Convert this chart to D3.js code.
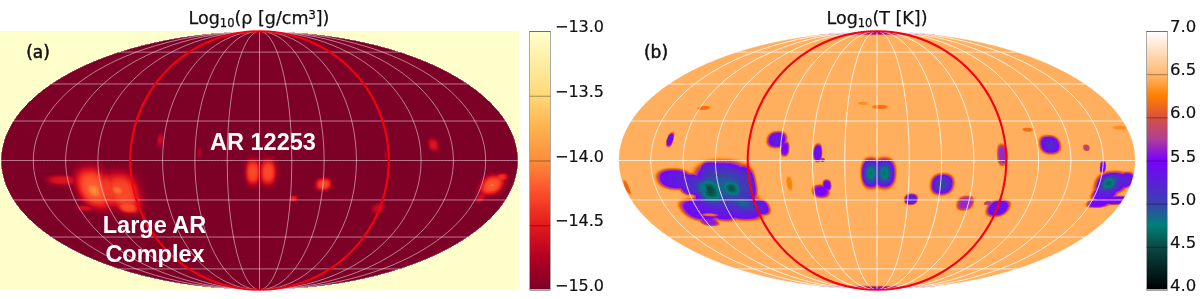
<!DOCTYPE html>
<html><head><meta charset="utf-8">
<style>
html,body{margin:0;padding:0;background:#fff;width:1200px;height:299px;overflow:hidden}
#wrap{position:relative;width:1200px;height:299px}
canvas,svg{position:absolute;left:0;top:0}
canvas{filter:blur(0.5px)}
</style>
<script src="https://cdnjs.cloudflare.com/ajax/libs/d3/7.8.5/d3.min.js"></script>
</head><body><div id="wrap"><canvas id="c" width="1200" height="299"></canvas><svg id="s" width="1200" height="299"></svg></div>
<script>
// Colour scale stops
const densityStops = [[-15,"#7d0026"],[-14.75,"#b30024"],[-14.5,"#e31a1c"],[-14.25,"#fc4e2a"],[-14,"#fd8d3c"],[-13.75,"#feb24c"],[-13.5,"#fed976"],[-13,"#ffffcc"]];
const tempStops = [[4,"#000000"],[4.5,"#0b4a46"],[4.75,"#00807a"],[5,"#3a40b0"],[5.25,"#5a20d8"],[5.5,"#7a00ff"],[5.75,"#ae3f98"],[6,"#d8503f"],[6.25,"#ff7f00"],[6.5,"#ffb870"],[7,"#ffffff"]];
const densityTicks = [-13,-13.5,-14,-14.5,-15];
const tempTicks = [7,6.5,6,5.5,5,4.5,4];
const densityBase = -15;
const tempBase = 6.46;
// Each row: lon, lat, lon radius, lat radius, amplitude (degrees; log10 units)
const tempShelves = [
[-142.4,-10.6,12,5.8,1.1],[-131,-14,10,6.6,1.1],[-116,-6.5,8,6,1.1],[-108,-11.8,20,11.6,1.12],[-93.7,-12.9,8,10.4,1.1],[-111.4,-22.7,24,7.8,1.12],
[-133.6,-28.5,13.5,6.6,1.05],[-118,-28.5,12,6.4,1.08],[-102,-28.5,15,6,1.1],[-87.8,-26.7,7.5,4.8,1.05],[-132.7,-35.4,7,2.6,.85],
[-146,11.8,2.3,4,1.05],[-70.6,11.8,6.8,4.6,1.08],[-64.4,6.6,3,4.2,.95],[-132,30.2,4.6,1.2,.3],[-178,-15.2,1.5,4,.35],
[-41.3,4.3,3,5,1.1],[-37.8,.3,1.4,1.2,.8],[-40.2,-17.5,6,3.7,.95],[-35.5,-14,3,3.2,1],
[-4.2,-7.2,6.8,8.6,1.1],[5.2,-7.2,7.8,8.6,1.1],[46.2,-13.5,8,6,1.1],[24.8,-22.1,4.8,3.2,1.08],[65.1,-24.4,6,4.2,.8],
[90.7,-27.3,8.2,5,1.1],[82,-24.4,3,1.2,.7],[87.5,3.2,3.6,6,.8],[121.4,8.9,7.2,5.2,1.1],[146.5,7.2,2.2,1.8,.65],
[166,-12.9,11.5,6.6,1.1],[175,-11.2,6,4.6,1.08],[164,-18.7,9,4.6,1.08],[163.5,-24.4,8.4,2.6,1],[174.5,-22.7,9.6,2.6,1.02],[157.5,-3.7,2.1,3.5,1],
[2.3,30.8,6,1.2,.3],[-11,33,3.9,.9,.15],[108,17.5,3.6,1.2,.3],[175,18.7,5,1.2,.15],[-62,-13,2,4,.2],
[0,90,9999,6,1],[0,-90,9999,6,1]
];
// Extra depth inside the shelves
const tempCores = [
[-109,-15,23,11.5,.48],[-119.7,-17,9,7,.9],[-103.7,-15.8,7.5,5.5,.8],[-97.7,-24.4,10.4,4.6,.5],
[-4.2,-7.2,5.2,6,.68],[5.2,-7.2,5.2,6,.68],[46.2,-13.5,6,4.4,.38],[24.8,-22.1,3,2,.25],[121.4,8.9,4.4,3,.2],[164,-12.9,6,4.2,.75],
[-70.6,11.8,4,3,.1],[175,-11.2,5,3,.15]
];
const tempGaps = [[-134.6,-20.4,3,1.2,.8],[-128.2,-31.3,6,.9,.75],[-141,-20,3,1,.5]];
const densityShelves = [
[-139,-11.2,10.6,2.9,.45],[-118.6,-15.8,11.8,12,.8],[-108,-17,8,10,.66],[-98.6,-18,12.6,11.4,.72],[-98.2,-26.7,8,3.8,.75],[-130.5,-27.3,6,1.7,.4],
[-4.6,-6.6,5.2,7.4,.72],[6,-6.6,5.6,7.4,.72],[45.4,-13.5,5.7,3.5,.7],[24.8,-21.6,2.9,1.7,.5],[89,-27.3,4.5,2.9,.35],
[-70,11.8,2.1,3.5,.35],[-42,4.3,1.4,2.9,.25],[122,8.9,3.5,3.5,.45],[88,3,1,2.9,.2],
[165,-14,8,5.8,.78],[170,-9.5,4.2,2.3,.6],[161,-21,3,3,.4]
];
const densityCores = [
[-118.6,-17,9,7.5,1],[-101.5,-17,7,5,.92],[165,-14,3.6,1.8,.95]
];

function ramp(stops){
  return d3.scaleLinear().domain(stops.map(d=>d[0])).range(stops.map(d=>d[1])).clamp(true).interpolate(d3.interpolateRgb);
}
const densityColor = ramp(densityStops), tempColor = ramp(tempStops);

function mollweideRaw(l,p){
  let t=p;
  if(Math.abs(Math.abs(p)-Math.PI/2)>1e-9)
    for(let i=0;i<30;i++){const f=(2*t+Math.sin(2*t)-Math.PI*Math.sin(p))/(2+2*Math.cos(2*t)); t-=f; if(Math.abs(f)<1e-9)break;}
  return [2*Math.SQRT2/Math.PI*l*Math.cos(t),Math.SQRT2*Math.sin(t)];
}
mollweideRaw.invert=function(x,y){
  const t=Math.asin(y/Math.SQRT2);
  return [Math.PI*x/(2*Math.SQRT2*Math.cos(t)),Math.asin((2*t+Math.sin(2*t))/Math.PI)];
};
const S=91.4, CY=160.5, H0=31, H1=290, N=2.4;
function proj(cx){return d3.geoProjection(mollweideRaw).scale(S).translate([cx,CY]).precision(.1);}

function amp(list,m,lon,lat){
  let best=0;
  for(const b of list){
    const dx=Math.abs(lon-b[0])/b[2],dy=Math.abs(lat-b[1])/b[3];
    if(dx>2.2||dy>2.2)continue;
    const r=Math.pow(dx,N)+Math.pow(dy,N);
    const v=b[4]*Math.exp(-Math.pow(r,m/N));
    if(v>best)best=v;
  }
  return best;
}
const ctx=document.getElementById("c").getContext("2d");
function drawField(x0,x1,cx,bg,edge,combine,value,color){
  const pj=proj(cx), ax=2*Math.SQRT2*S, ay=Math.SQRT2*S;
  ctx.fillStyle=bg;ctx.fillRect(x0,H0,x1-x0,H1-H0);
  const w=x1-x0,h=H1-H0,img=ctx.getImageData(x0,H0,w,h);
  for(let j=0;j<h;j++)for(let i=0;i<w;i++){
    const px=x0+i+.5,py=H0+j+.5,ex=(px-cx)/ax,ey=(py-CY)/ay;
    if(ex*ex+ey*ey>1)continue;
    const ll=pj.invert([px,py]);
    const c=d3.rgb(color(value(combine(ll[0],ll[1],edge))));
    const k=4*(j*w+i);
    img.data[k]=c.r;img.data[k+1]=c.g;img.data[k+2]=c.b;img.data[k+3]=255;
  }
  ctx.putImageData(img,x0,H0);
}
drawField(0,519,259.5,"#ffffcc",4,(lo,la,e)=>Math.max(amp(densityShelves,e,lo,la),amp(densityCores,2,lo,la)),a=>densityBase+a,densityColor);
drawField(618,1136,877,"#ffffff",8,(lo,la,e)=>{
  const s=amp(tempShelves,e,lo,la);
  const a=s+amp(tempCores,2,lo,la)*Math.min(1,s);
  return a*(1-amp(tempGaps,4,lo,la));
},a=>tempBase-a,tempColor);

const svg=d3.select("#s");
const step=22.5;
const graticule=d3.geoGraticule().extent([[-180,-90],[180.01,90.01]]).step([step,step]).stepMajor([step,step]).precision(1)();
const FONT="'DejaVu Sans', sans-serif";
function panelOverlay(cx,gridOp,gridW){
  const path=d3.geoPath(proj(cx));
  svg.append("path").datum(graticule).attr("d",path).attr("fill","none").attr("stroke","#fff").attr("stroke-opacity",gridOp).attr("stroke-width",gridW);
  const red={type:"MultiLineString",coordinates:[-90,90].map(l=>d3.range(-90,90.5,2).map(p=>[l,p]))};
  svg.append("path").datum(red).attr("d",path).attr("fill","none").attr("stroke","#f5000f").attr("stroke-width",2.1);
}
panelOverlay(259.5,.62,.8);
panelOverlay(877,.8,1);

function colorbar(x,stops,color,ticks,fmt,labelX,size){
  const id="g"+x, y=d3.scaleLinear().domain(d3.extent(ticks)).range([H1,H0]);
  const grad=svg.append("defs").append("linearGradient").attr("id",id).attr("x1",0).attr("x2",0).attr("y1",1).attr("y2",0);
  stops.forEach(s=>grad.append("stop").attr("offset",(s[0]-y.domain()[0])/(y.domain()[1]-y.domain()[0])).attr("stop-color",s[1]));
  svg.append("rect").attr("x",x+.5).attr("y",H0+.5).attr("width",21).attr("height",H1-H0-1).attr("fill",`url(#${id})`).attr("stroke","#a9a9a9").attr("stroke-width",1);
  const g=svg.append("g").attr("transform",`translate(${x+21.5},0)`).call(d3.axisRight(y).tickValues(ticks).tickSize(-21).tickFormat(fmt));
  g.select(".domain").remove();
  g.selectAll(".tick line").attr("stroke","#000").attr("stroke-opacity",.35);
  g.selectAll(".tick text").attr("x",labelX-(x+21.5)).attr("dy",0).attr("y",0)
    .attr("transform","translate(0,-5)").attr("dominant-baseline","central")
    .attr("font-family",FONT).attr("font-size",size).attr("fill","#111").attr("stroke","#111").attr("stroke-width",.2).attr("text-anchor","start");
}
colorbar(529,densityStops,densityColor,densityTicks,d=>"\u2212"+d3.format(".1f")(Math.abs(d)),555,16);
colorbar(1146,tempStops,tempColor,tempTicks,d3.format(".1f"),1170,16.5);

function title(x,y,parts){
  const t=svg.append("text").attr("x",x).attr("y",y).attr("text-anchor","middle").attr("font-family",FONT).attr("font-size",17.5).attr("fill","#111").attr("stroke","#111").attr("stroke-width",.25);
  parts.forEach(p=>{
    t.append("tspan").text(p[0]).attr("font-size",p[1]||17.5).attr("dy",p[2]||0);
  });
}
title(259,24,[["Log"],["10",11.5,3],["(\u03c1 [g/cm",17.5,-3],["3",11.5,-5],["])",17.5,5]]);
title(877,24,[["Log"],["10",11.5,3],["(T [K])",17.5,-3]]);
function label(x,y,txt,size,fill,anchor,fam,weight,sw){
  svg.append("text").attr("x",x).attr("y",y).attr("text-anchor",anchor).attr("font-family",fam).attr("font-size",size).attr("font-weight",weight).attr("fill",fill).attr("stroke",fill).attr("stroke-width",sw).text(txt);
}
const LIB="'Liberation Sans', Arial, sans-serif";
label(38,58,"(a)",17,"#111","middle",FONT,400,.5);
label(656,58,"(b)",17,"#111","middle",FONT,400,.5);
label(263,150,"AR 12253",23.5,"#fff","middle",LIB,700,0);
label(154.5,233,"Large AR",23.5,"#fff","middle",LIB,700,0);
label(155,262,"Complex",23.5,"#fff","middle",LIB,700,0);
</script></body></html>
